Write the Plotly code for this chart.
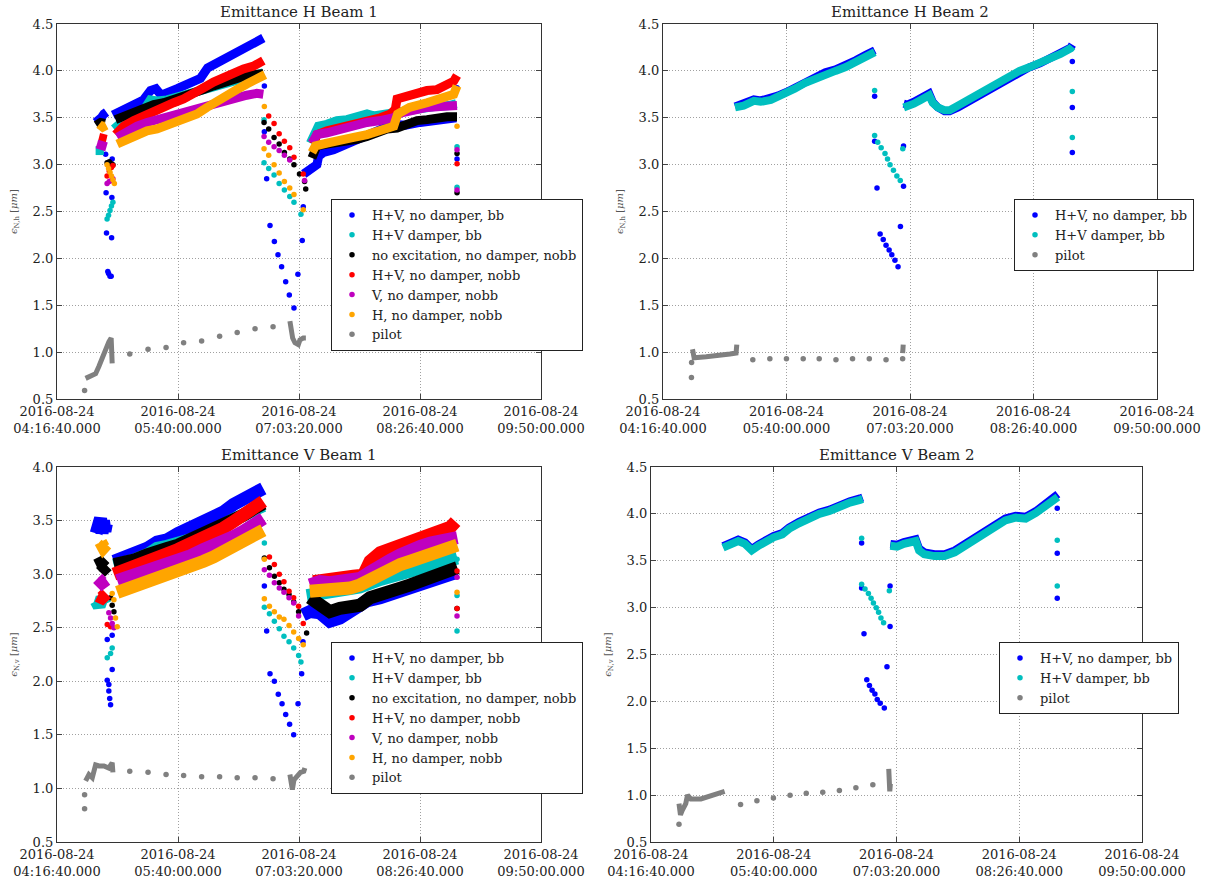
import pandas as pd
import plotly.graph_objects as go

# ---------------- axis / label data ----------------
T_START = pd.Timestamp("2016-08-24 04:16:40")
T_END = pd.Timestamp("2016-08-24 09:50:00")
X_TICK_TIMES = ["2016-08-24 04:16:40", "2016-08-24 05:40:00", "2016-08-24 07:03:20",
                "2016-08-24 08:26:40", "2016-08-24 09:50:00"]
X_TICK_TEXT = ["2016-08-24<br>04:16:40.000", "2016-08-24<br>05:40:00.000", "2016-08-24<br>07:03:20.000",
               "2016-08-24<br>08:26:40.000", "2016-08-24<br>09:50:00.000"]
Y_TICKS_45 = [0.5, 1.0, 1.5, 2.0, 2.5, 3.0, 3.5, 4.0, 4.5]
Y_TICKS_40 = [0.5, 1.0, 1.5, 2.0, 2.5, 3.0, 3.5, 4.0]
TITLES = ["Emittance H Beam 1", "Emittance H Beam 2", "Emittance V Beam 1", "Emittance V Beam 2"]
NAMES = ["H+V, no damper, bb", "H+V damper, bb", "no excitation, no damper, nobb",
         "H+V, no damper, nobb", "V, no damper, nobb", "H, no damper, nobb", "pilot"]
COLORS = ["#0000ff", "#00bfbf", "#000000", "#ff0000", "#bf00bf", "#ffa500", "#808080"]

# Times are minutes after 04:16:40; None separates dense segments.
# ================= Emittance H Beam 1 =================
H1_b0_t = [26.6, 28.9, 30.5, 32.3, 34.1, None, 38.5, 44.7, 52.1, 59.5, 64.4, 68.1, 71.8, 75.5, 82.8, 91.4, 98.8, 103.7, 111.1, 118.5, 125.9, 133.2, 142.1,
           None, 169.9, 174.5, 179.0, 180.2, 183.6, 190.5, 197.4, 204.3, 211.2, 218.1, 225.0, 231.9, 240, 250, 262, 275]
H1_b0_v = [3.45, 3.47, 3.50, 3.54, 3.56, None, 3.53, 3.58, 3.64, 3.69, 3.79, 3.81, 3.74, 3.77, 3.81, 3.87, 3.92, 4.03, 4.09, 4.15, 4.22, 4.28, 4.35,
           None, 2.90, 2.95, 3.00, 3.09, 3.13, 3.16, 3.21, 3.25, 3.31, 3.34, 3.39, 3.43, 3.42, 3.45, 3.48, 3.50]
H1_d0_t = [33.5, 33.8, 34.1, 35.0, 35.5, 36.5, 37.3, 37.6, 37.8, 38.0, 142.8, 142.8, 144.4, 146.7, 149.7, 152.2, 154.7, 157.5, 160.0, 163.2, 165.9, 168.9, 169.6, 275.5, 275.5]
H1_d0_v = [3.11, 2.70, 2.27, 1.86, 1.84, 1.81, 1.81, 2.22, 2.65, 3.06, 3.35, 3.84, 2.85, 2.35, 2.18, 2.04, 1.91, 1.75, 1.61, 1.47, 1.83, 2.19, 2.55, 3.82, 3.06]

H1_b1_t = [26.6, 29.0, 32.3, None, 39.2, 46.0, 52.9, 59.8, 64.3, 68.9, 75.8, 82.6, 89.5, 96.4, 101, 107.8, 114.7, 121.5, 128.4, 135.3, 142.1,
           None, 174.5, 180, 185.9, 192.8, 199.7, 206.6, 213.5, 218, 230, 240, 250, 260, 270, 275]
H1_b1_v = [3.15, 3.14, 3.15, None, 3.38, 3.47, 3.52, 3.58, 3.69, 3.68, 3.69, 3.72, 3.75, 3.78, 3.81, 3.84, 3.88, 3.91, 3.94, 3.96, 3.98,
           None, 3.23, 3.41, 3.43, 3.47, 3.48, 3.51, 3.54, 3.52, 3.55, 3.58, 3.60, 3.62, 3.63, 3.65]
H1_d1_t = [34.5, 35.5, 36.5, 37.5, 38.5, 142.6, 142.6, 145.8, 149.5, 153, 156.6, 160.3, 163.2, 168, 275.5, 275.5]
H1_d1_v = [2.42, 2.46, 2.51, 2.56, 2.60, 3.48, 3.02, 2.96, 2.89, 2.80, 2.73, 2.66, 2.60, 2.47, 3.19, 2.76]

H1_b2_t = [27, 30, 33, None, 40.3, 46.0, 52.9, 59.8, 66.6, 73.5, 80.4, 87.2, 94.1, 101, 107.8, 114.7, 121.5, 128.4, 135.3, 142.1,
           None, 175.6, 176.8, 179, 185.9, 192.8, 199.7, 206.6, 213.5, 220.4, 227.3, 234.2, 241, 248, 254.8, 261.7, 268.6, 275.5]
H1_b2_v = [3.42, 3.45, 3.44, None, 3.48, 3.52, 3.56, 3.60, 3.64, 3.66, 3.69, 3.72, 3.76, 3.80, 3.84, 3.88, 3.91, 3.94, 3.96, 3.97,
           None, 3.07, 3.14, 3.20, 3.22, 3.23, 3.25, 3.27, 3.30, 3.34, 3.38, 3.39, 3.43, 3.47, 3.48, 3.50, 3.51, 3.51]
H1_d2_t = [34.5, 36, 37.5, 38.5, 142.6, 145.8, 149.5, 153, 156.6, 160.3, 163.2, 167, 170.5, 171.3, 275.5, 275.5]
H1_d2_v = [3.02, 3.03, 3.01, 3.00, 3.45, 3.38, 3.29, 3.22, 3.13, 3.06, 3.00, 2.90, 2.82, 2.74, 3.12, 2.70]

H1_b3_t = [28.9, 31.5, 34.1, None, 40.3, 46.0, 52.9, 59.8, 66.6, 73.5, 80.4, 87.2, 94.1, 101, 107.8, 114.7, 121.5, 128.4, 135.3, 142.1,
           None, 176.8, 179, 185.9, 195.1, 204.3, 213.5, 222.7, 229.6, 233, 234.2, 241, 248, 254.8, 261.7, 268.6, 273.2, 275.5]
H1_b3_v = [3.29, 3.28, 3.27, None, 3.32, 3.41, 3.47, 3.52, 3.57, 3.63, 3.66, 3.70, 3.75, 3.82, 3.88, 3.93, 3.98, 4.02, 4.05, 4.11,
           None, 3.22, 3.32, 3.36, 3.39, 3.43, 3.47, 3.50, 3.54, 3.59, 3.70, 3.73, 3.77, 3.79, 3.80, 3.84, 3.89, 3.95]
H1_d3_t = [34.5, 36, 37.5, 38.5, 145.8, 149.5, 153, 156.6, 160.3, 163.2, 169.6, 275.5]
H1_d3_v = [2.88, 2.93, 2.97, 2.99, 3.52, 3.44, 3.33, 3.25, 3.18, 3.08, 2.90, 3.01]

H1_b4_t = [27.5, 31, 34.1, None, 41.5, 48.3, 55.2, 62.0, 68.9, 75.8, 82.6, 89.5, 96.4, 103.2, 110.1, 117, 123.8, 130.7, 137.6, 142.1,
           None, 175.6, 179, 185.9, 195.1, 204.3, 213.5, 222.7, 231.9, 236.5, 245.7, 254.8, 264, 275.5]
H1_b4_v = [3.22, 3.20, 3.19, None, 3.29, 3.36, 3.41, 3.45, 3.48, 3.52, 3.54, 3.56, 3.59, 3.63, 3.65, 3.68, 3.71, 3.74, 3.76, 3.75,
           None, 3.23, 3.32, 3.34, 3.38, 3.41, 3.45, 3.47, 3.50, 3.55, 3.59, 3.61, 3.62, 3.63]
H1_d4_t = [34.5, 36, 37.5, 38.5, 142.6, 145.8, 149.5, 153, 156.6, 160.3, 170.5, 275.5, 275.5]
H1_d4_v = [2.80, 2.82, 2.83, 2.85, 3.30, 3.24, 3.19, 3.15, 3.10, 3.05, 2.83, 3.16, 2.73]

H1_b5_t = [29, 31.5, 34, None, 41.5, 48.3, 55.2, 62.0, 68.9, 75.8, 82.6, 89.5, 96.4, 103.2, 110.1, 117, 123.8, 130.7, 137.6, 143.3,
           None, 175.6, 178, 185.9, 195.1, 204.3, 213.5, 222.7, 231.9, 234.6, 242.7, 254.8, 264, 273.2, 275.5]
H1_b5_v = [3.43, 3.40, 3.42, None, 3.22, 3.27, 3.31, 3.36, 3.38, 3.42, 3.45, 3.49, 3.54, 3.61, 3.68, 3.75, 3.80, 3.86, 3.91, 3.96,
           None, 3.13, 3.20, 3.23, 3.25, 3.29, 3.32, 3.36, 3.41, 3.54, 3.61, 3.66, 3.70, 3.75, 3.84]
H1_d5_t = [34.5, 35.5, 36.5, 37.5, 38.5, 39.5, 142.8, 142.6, 145.8, 149.5, 153, 156.6, 160.3, 163.2, 169.6, 275.5]
H1_d5_v = [3.00, 2.96, 2.92, 2.88, 2.84, 2.80, 3.62, 3.17, 3.10, 3.00, 2.91, 2.82, 2.75, 2.68, 2.52, 3.41]

H1_b6_t = [19.7, 23.1, 26.6, 28.9, 31.1, 33.4, 35.7, 37.3, 37.6, 38.0, None, 160.4, 161.1, 162.3, 163.9, 166.2, 167.3, 169.6, 171.4]
H1_b6_v = [0.72, 0.74, 0.77, 0.85, 0.94, 1.02, 1.11, 1.15, 0.99, 0.88, None, 1.33, 1.24, 1.15, 1.10, 1.08, 1.13, 1.15, 1.15]
H1_d6_t = [19.0, 50.1, 62.7, 75.1, 87.2, 99.6, 112, 124.1, 136.4, 148.8]
H1_d6_v = [0.59, 0.98, 1.03, 1.05, 1.10, 1.12, 1.17, 1.21, 1.25, 1.27]

# ================= Emittance H Beam 2 =================
H2_b0_t = [48.6, 54.4, 61.3, 65.9, 72.8, 77.4, 83.3, 88.9, 95.7, 102.6, 109.5, 116.4, 123.3, 130.2, 137.1, 142.9,
           None, 162.4, 164.7, 169.3, 173.9, 179.6, 182, 185.4, 190, 193.4, 199.2, 206.1, 213, 219.9, 226.8, 233.7, 240.6, 247.5, 254.4, 261.3, 268.2, 275.1, 276.2]
H2_b0_v = [3.62, 3.645, 3.695, 3.685, 3.705, 3.735, 3.775, 3.825, 3.885, 3.935, 3.985, 4.015, 4.055, 4.115, 4.175, 4.22,
           None, 3.65, 3.64, 3.67, 3.71, 3.76, 3.67, 3.61, 3.57, 3.57, 3.61, 3.67, 3.74, 3.81, 3.87, 3.93, 3.99, 4.04, 4.08, 4.13, 4.19, 4.25, 4.28]
H2_d0_t = [142.8, 142.8, 144.4, 146.5, 148.6, 150.5, 152.6, 154.4, 156.5, 158.6, 160.2, 162.3, 162.3, 276.2, 276.2, 276.2]
H2_d0_v = [3.73, 3.25, 2.75, 2.26, 2.20, 2.14, 2.09, 2.04, 1.98, 1.91, 2.34, 2.77, 3.20, 4.10, 3.61, 3.13]

H2_b1_t = [48.6, 54.4, 61.3, 65.9, 72.8, 77.4, 83.3, 88.9, 95.7, 102.6, 109.5, 116.4, 123.3, 130.2, 137.1, 142.9,
           None, 162.4, 164.7, 169.3, 173.9, 179.6, 182, 185.4, 190, 193.4, 199.2, 206.1, 213, 219.9, 226.8, 233.7, 240.6, 247.5, 254.4, 261.3, 268.2, 275.1, 276.2]
H2_b1_v = [3.61, 3.63, 3.68, 3.67, 3.69, 3.72, 3.76, 3.81, 3.87, 3.92, 3.97, 4.00, 4.04, 4.10, 4.16, 4.20,
           None, 3.61, 3.62, 3.65, 3.69, 3.74, 3.66, 3.61, 3.58, 3.58, 3.63, 3.69, 3.76, 3.83, 3.88, 3.94, 4.00, 4.04, 4.08, 4.12, 4.18, 4.24, 4.26]
H2_d1_t = [142.8, 142.8, 144.9, 147.2, 149.8, 151.5, 153.2, 155.5, 157.8, 160.1, 161.8, 276.2, 276.2]
H2_d1_v = [3.79, 3.31, 3.24, 3.18, 3.12, 3.06, 3.00, 2.94, 2.88, 2.83, 3.17, 3.78, 3.29]

H2_b6_t = [19.9, 21.0, 29.1, 38.3, 45.2, 49.3, 49.8, None, 161.7, 161.9, 162.1]
H2_b6_v = [1.03, 0.94, 0.95, 0.96, 0.98, 0.99, 1.08, None, 0.99, 1.04, 1.08]
H2_d6_t = [19.2, 19.3, 60.6, 72.1, 83.3, 94.6, 105.4, 116.7, 127.9, 139.2, 150.5, 161.7]
H2_d6_v = [0.73, 0.89, 0.92, 0.93, 0.93, 0.93, 0.93, 0.92, 0.93, 0.93, 0.92, 0.93]

# ================= Emittance V Beam 1 =================
V1_b0_t = [27, 28, 29, 30, 31, 32, 33, 34, None, 39.2, 46, 52.9, 62, 68.9, 75.8, 83.3, 91.8, 101, 107.8, 114.7, 121.5, 128.4, 135.3, 142.1,
           None, 169.4, 174.1, 181, 187.9, 194.8, 201.8, 208.7, 213.3, 222.6, 236.4, 250.3, 264.1, 275.7]
V1_b0_v = [3.38, 3.50, 3.40, 3.52, 3.38, 3.50, 3.40, 3.47, None, 3.12, 3.15, 3.18, 3.24, 3.30, 3.32, 3.38, 3.43, 3.49, 3.52, 3.58, 3.65, 3.71, 3.77, 3.80,
           None, 2.62, 2.65, 2.64, 2.56, 2.59, 2.65, 2.68, 2.75, 2.78, 2.84, 2.90, 2.95, 3.02]
V1_d0_t = [34.6, 38.0, 38.0, 34.6, 35.7, 35.7, 36.3, 36.9, 142.8, 144.4, 146.7, 149.7, 152.4, 155, 157.5, 160.2, 163, 166, 168.5, 169.4]
V1_d0_v = [2.39, 2.43, 2.11, 2.01, 1.97, 1.91, 1.84, 1.78, 2.89, 2.47, 2.07, 2.00, 1.88, 1.79, 1.69, 1.60, 1.50, 1.79, 2.07, 2.37]

V1_b1_t = [27, 29, 31, 33, None, 39.2, 46, 52.9, 62, 68.9, 75.8, 83.3, 91.8, 101, 107.8, 114.7, 121.5, 128.4, 135.3, 142.1,
           None, 172, 181, 194.8, 208.7, 222.6, 236.4, 250.3, 264.1, 275.7]
V1_b1_v = [2.75, 2.70, 2.78, 2.72, None, 3.08, 3.10, 3.13, 3.18, 3.24, 3.26, 3.28, 3.32, 3.37, 3.40, 3.46, 3.51, 3.55, 3.60, 3.64,
           None, 2.80, 2.82, 2.84, 2.88, 2.95, 3.00, 3.05, 3.10, 3.15]
V1_d1_t = [34.6, 36.9, 38.0, 142.8, 142.8, 146.3, 149.7, 153.1, 156.3, 159.8, 163, 166.4, 168, 275.5, 275.5, 275.5]
V1_d1_v = [2.22, 2.26, 2.31, 3.29, 2.69, 2.63, 2.56, 2.49, 2.42, 2.37, 2.31, 2.24, 2.18, 3.14, 2.80, 2.47]

V1_b2_t = [27, 30, 33, 34.5, None, 39.2, 46, 52.9, 62, 68.9, 75.8, 83.3, 91.8, 101, 107.8, 114.7, 121.5, 128.4, 135.3, 142.1,
           None, 174.1, 181, 187.9, 194.8, 201.8, 208.7, 215.6, 222.6, 229.5, 236.4, 243.3, 250.3, 257.2, 264.1, 271.1, 275.7]
V1_b2_v = [3.08, 3.10, 3.06, 3.08, None, 3.09, 3.10, 3.13, 3.18, 3.22, 3.24, 3.27, 3.32, 3.37, 3.40, 3.46, 3.51, 3.55, 3.61, 3.66,
           None, 2.78, 2.71, 2.65, 2.68, 2.71, 2.71, 2.78, 2.82, 2.85, 2.87, 2.90, 2.93, 2.95, 2.98, 3.02, 3.06]
V1_d2_t = [36.9, 38.0, 39.2, 142.8, 146.3, 149.7, 153.1, 156.3, 159.8, 163, 166.4, 171.9, 275.5]
V1_d2_v = [2.78, 2.71, 2.65, 3.15, 3.06, 2.98, 2.92, 2.86, 2.81, 2.74, 2.65, 2.45, 2.68]

V1_b3_t = [28, 31, 34, None, 39.2, 46, 52.9, 62, 68.9, 75.8, 83.3, 91.8, 101, 107.8, 114.7, 121.5, 128.4, 135.3, 142.1,
           None, 176.4, 183.3, 190.2, 197.2, 204.1, 211, 215.6, 222.6, 229.5, 236.4, 243.3, 250.3, 257.2, 264.1, 271.1, 274.5]
V1_b3_v = [2.80, 2.78, 2.82, None, 3.00, 3.03, 3.06, 3.11, 3.16, 3.19, 3.23, 3.28, 3.34, 3.38, 3.43, 3.49, 3.55, 3.61, 3.68,
           None, 2.93, 2.95, 2.96, 2.96, 2.98, 2.99, 3.12, 3.20, 3.23, 3.26, 3.30, 3.35, 3.38, 3.40, 3.44, 3.49]
V1_d3_t = [34.6, 36.9, 146.3, 149.7, 153.1, 156.3, 159.8, 163, 166.4, 169.6, 275.5, 275.5]
V1_d3_v = [2.53, 2.51, 3.16, 3.09, 3.00, 2.93, 2.84, 2.78, 2.70, 2.54, 3.03, 2.68]

V1_b4_t = [28, 31, 34, None, 41.5, 48.3, 55.2, 62, 68.9, 75.8, 83.3, 91.8, 101, 107.8, 114.7, 121.5, 128.4, 135.3, 142.1,
           None, 174.1, 181, 187.9, 194.8, 201.8, 208.7, 215.6, 222.6, 229.5, 236.4, 243.3, 250.3, 257.2, 264.1, 271.1, 275.7]
V1_b4_v = [2.96, 2.92, 2.95, None, 2.94, 2.97, 3.00, 3.03, 3.06, 3.09, 3.12, 3.17, 3.23, 3.26, 3.30, 3.35, 3.40, 3.46, 3.52,
           None, 2.90, 2.93, 2.92, 2.93, 2.95, 2.96, 3.02, 3.09, 3.13, 3.18, 3.23, 3.26, 3.29, 3.32, 3.35, 3.34]
V1_d4_t = [35.7, 36.9, 38.0, 39.2, 142.8, 146.3, 149.7, 153.1, 156.3, 159.8, 163, 166.4, 275.5, 275.5]
V1_d4_v = [2.64, 2.59, 2.54, 2.50, 3.04, 2.99, 2.92, 2.87, 2.83, 2.78, 2.73, 2.61, 2.97, 2.61]

V1_b5_t = [30, 32, 34, None, 41.5, 48.3, 55.2, 62, 68.9, 75.8, 83.3, 91.8, 101, 107.8, 114.7, 121.5, 128.4, 135.3, 142.1,
           None, 174.1, 181, 187.9, 194.8, 201.8, 208.7, 215.6, 222.6, 229.5, 236.4, 243.3, 250.3, 257.2, 264.1, 271.1, 275.7]
V1_b5_v = [3.30, 3.25, 3.28, None, 2.83, 2.86, 2.89, 2.92, 2.96, 2.99, 3.02, 3.07, 3.12, 3.16, 3.21, 3.26, 3.30, 3.35, 3.41,
           None, 2.84, 2.85, 2.85, 2.84, 2.87, 2.90, 2.95, 3.02, 3.06, 3.09, 3.12, 3.15, 3.20, 3.23, 3.26, 3.27]
V1_d5_t = [38.0, 39.2, 40.3, 41.5, 142.8, 142.8, 146.3, 149.7, 153.1, 156.3, 159.8, 163, 166.4, 169.6, 275.5]
V1_d5_v = [2.82, 2.76, 2.59, 2.51, 3.14, 2.77, 2.70, 2.65, 2.60, 2.58, 2.52, 2.46, 2.40, 2.34, 2.83]

V1_b6_t = [19.7, 22.0, 24.3, 26.6, 28.9, 32.3, 35.7, 38.0, 38.5, None, 160.4, 161.4, 162.1, 163.2, 165.4, 167.7, 170, 170.7]
V1_b6_v = [1.07, 1.13, 1.10, 1.22, 1.21, 1.21, 1.19, 1.24, 1.15, None, 1.13, 1.05, 0.99, 1.08, 1.11, 1.15, 1.16, 1.19]
V1_d6_t = [19.0, 19.0, 50.1, 62.7, 75.1, 87.2, 99.6, 112, 124.1, 136.4, 148.8]
V1_d6_v = [0.81, 0.94, 1.16, 1.15, 1.13, 1.12, 1.11, 1.11, 1.10, 1.10, 1.09]

# ================= Emittance V Beam 2 =================
V2_b0_t = [48.9, 54.6, 59.2, 63.8, 68.4, 73.0, 77.6, 83.3, 89.1, 93.7, 100.5, 107.4, 114.3, 121.2, 128.1, 135.0, 141.9, 143.7,
           None, 162.5, 167.1, 171.7, 176.3, 179.7, 182, 185.5, 192.4, 199.3, 206.2, 213.1, 220, 226.8, 233.7, 240.6, 247.5, 254.4, 261.3, 268.2, 273.9, 276.2]
V2_b0_v = [3.655, 3.685, 3.725, 3.695, 3.625, 3.675, 3.725, 3.765, 3.795, 3.855, 3.915, 3.975, 4.015, 4.045, 4.095, 4.135, 4.165, 4.175,
           None, 3.68, 3.67, 3.70, 3.73, 3.73, 3.63, 3.59, 3.57, 3.57, 3.61, 3.68, 3.75, 3.82, 3.89, 3.95, 3.98, 3.97, 4.03, 4.11, 4.16, 4.21]
V2_d0_t = [143, 143, 144.6, 146.5, 148.3, 150.1, 152, 153.6, 155.6, 158.4, 160.2, 162.3, 162.3, 275.8, 275.8, 275.8]
V2_d0_v = [3.69, 3.21, 2.72, 2.23, 2.17, 2.12, 2.08, 2.02, 1.98, 1.93, 2.37, 2.80, 3.23, 4.06, 3.58, 3.10]

V2_b1_t = [48.9, 54.6, 59.2, 63.8, 68.4, 73.0, 77.6, 83.3, 89.1, 93.7, 100.5, 107.4, 114.3, 121.2, 128.1, 135.0, 141.9, 143.7,
           None, 162.5, 167.1, 171.7, 176.3, 179.7, 182, 185.5, 192.4, 199.3, 206.2, 213.1, 220, 226.8, 233.7, 240.6, 247.5, 254.4, 261.3, 268.2, 273.9, 276.2]
V2_b1_v = [3.64, 3.67, 3.71, 3.68, 3.61, 3.66, 3.71, 3.75, 3.78, 3.84, 3.90, 3.96, 4.00, 4.03, 4.08, 4.12, 4.15, 4.16,
           None, 3.66, 3.65, 3.68, 3.71, 3.71, 3.61, 3.57, 3.55, 3.55, 3.59, 3.66, 3.73, 3.80, 3.87, 3.93, 3.96, 3.95, 4.01, 4.09, 4.14, 4.18]
V2_d1_t = [143, 143, 145.3, 147.6, 149.4, 151, 152.9, 154.5, 156.1, 157.9, 161.8, 275.8, 275.8]
V2_d1_v = [3.74, 3.25, 3.20, 3.15, 3.10, 3.05, 3.00, 2.95, 2.89, 2.84, 3.18, 3.72, 3.23]

V2_b6_t = [19.0, 19.5, 20.0, 21.3, 23.6, 24.8, 27.0, 33.9, 40.9, 47.7, 50.0, None, 161.4, 161.8, 162.1, 162.5]
V2_b6_v = [0.91, 0.85, 0.79, 0.84, 0.91, 1.00, 0.96, 0.96, 0.99, 1.02, 1.04, None, 1.28, 1.15, 1.04, 1.12]
V2_d6_t = [19.0, 60.8, 71.9, 83.1, 94.4, 105.4, 116.6, 127.9, 139.1, 150.6]
V2_d6_v = [0.69, 0.90, 0.94, 0.97, 1.00, 1.02, 1.03, 1.05, 1.08, 1.11]

# ---------------- build figure ----------------
FONT = "DejaVu Serif"
W, H = 1209, 879


def to_time(mins):
    out = []
    for m in mins:
        if m is None:
            out.append(None)
        else:
            out.append((T_START + pd.Timedelta(minutes=m)).strftime("%Y-%m-%d %H:%M:%S.%f"))
    return out


PANELS = [
    dict(key="", legend="legend", ylab="<i>ϵ</i><sub>N,h</sub> [<i>μm</i>]", yr=[0.5, 4.5], yt=Y_TICKS_45,
         px=(57, 541), py=(24, 399), band=9, leg=(331, 199),
         series=[(0, H1_b0_t, H1_b0_v, H1_d0_t, H1_d0_v), (1, H1_b1_t, H1_b1_v, H1_d1_t, H1_d1_v),
                 (2, H1_b2_t, H1_b2_v, H1_d2_t, H1_d2_v), (3, H1_b3_t, H1_b3_v, H1_d3_t, H1_d3_v),
                 (4, H1_b4_t, H1_b4_v, H1_d4_t, H1_d4_v), (5, H1_b5_t, H1_b5_v, H1_d5_t, H1_d5_v),
                 (6, H1_b6_t, H1_b6_v, H1_d6_t, H1_d6_v)]),
    dict(key="2", legend="legend2", ylab="<i>ϵ</i><sub>N,h</sub> [<i>μm</i>]", yr=[0.5, 4.5], yt=Y_TICKS_45,
         px=(663, 1157), py=(24, 399), band=8, leg=(1014, 199),
         series=[(0, H2_b0_t, H2_b0_v, H2_d0_t, H2_d0_v), (1, H2_b1_t, H2_b1_v, H2_d1_t, H2_d1_v),
                 (6, H2_b6_t, H2_b6_v, H2_d6_t, H2_d6_v)]),
    dict(key="3", legend="legend3", ylab="<i>ϵ</i><sub>N,v</sub> [<i>μm</i>]", yr=[0.5, 4.0], yt=Y_TICKS_40,
         px=(57, 541), py=(467, 842), band=13, leg=(331, 642),
         series=[(0, V1_b0_t, V1_b0_v, V1_d0_t, V1_d0_v), (1, V1_b1_t, V1_b1_v, V1_d1_t, V1_d1_v),
                 (2, V1_b2_t, V1_b2_v, V1_d2_t, V1_d2_v), (3, V1_b3_t, V1_b3_v, V1_d3_t, V1_d3_v),
                 (4, V1_b4_t, V1_b4_v, V1_d4_t, V1_d4_v), (5, V1_b5_t, V1_b5_v, V1_d5_t, V1_d5_v),
                 (6, V1_b6_t, V1_b6_v, V1_d6_t, V1_d6_v)]),
    dict(key="4", legend="legend4", ylab="<i>ϵ</i><sub>N,v</sub> [<i>μm</i>]", yr=[0.5, 4.5], yt=Y_TICKS_45,
         px=(651, 1142), py=(467, 842), band=8, leg=(999, 642),
         series=[(0, V2_b0_t, V2_b0_v, V2_d0_t, V2_d0_v), (1, V2_b1_t, V2_b1_v, V2_d1_t, V2_d1_v),
                 (6, V2_b6_t, V2_b6_v, V2_d6_t, V2_d6_v)]),
]

fig = go.Figure()
layout = dict(width=W, height=H, margin=dict(l=0, r=0, t=0, b=0, autoexpand=False), paper_bgcolor="white",
              plot_bgcolor="white", font=dict(family=FONT, size=13, color="#222"), annotations=[])

for pi, p in enumerate(PANELS):
    xa = "x" + p["key"]
    ya = "y" + p["key"]
    for idx, bt, bv, dt, dv in p["series"]:
        width = p["band"] if idx != 6 else 5
        fig.add_trace(go.Scatter(x=to_time(bt), y=bv, mode="lines", xaxis=xa, yaxis=ya,
                                 line=dict(color=COLORS[idx], width=width), showlegend=False,
                                 hoverinfo="skip"))
        fig.add_trace(go.Scatter(x=to_time(dt), y=dv, mode="markers", xaxis=xa, yaxis=ya,
                                 marker=dict(color=COLORS[idx], size=5.5, line=dict(width=0)),
                                 name=NAMES[idx], legend=p["legend"]))
    x0, x1 = p["px"]
    y0, y1 = p["py"]
    dom_x = [x0 / W, x1 / W]
    dom_y = [1 - y1 / H, 1 - y0 / H]
    layout["xaxis" + p["key"]] = dict(
        domain=dom_x, anchor=ya, type="date", range=[T_START, T_END], automargin=False,
        tickvals=X_TICK_TIMES, ticktext=X_TICK_TEXT, ticks="inside", ticklen=5,
        showline=True, linecolor="#333", linewidth=1.2, mirror="ticks",
        showgrid=True, gridcolor="#a0a0a0", griddash="1px,2px", gridwidth=1,
        zeroline=False, tickfont=dict(size=13, family=FONT, color="#222"))
    layout["yaxis" + p["key"]] = dict(
        domain=dom_y, anchor=xa, range=p["yr"], tickvals=p["yt"], tickformat=".1f", automargin=False,
        ticks="inside", ticklen=5, showline=True, linecolor="#333", linewidth=1.2, mirror="ticks",
        showgrid=True, gridcolor="#a0a0a0", griddash="1px,2px", gridwidth=1, zeroline=False,
        tickfont=dict(size=13, family=FONT, color="#222"),
        title=dict(text=p["ylab"], font=dict(size=10, family=FONT, color="#555"), standoff=13))
    lx, ly = p["leg"]
    layout[p["legend"]] = dict(x=lx / W, y=1 - ly / H, xanchor="left", yanchor="top",
                               bgcolor="white", bordercolor="#222", borderwidth=1,
                               font=dict(size=13, family=FONT, color="#222"), tracegroupgap=0,
                               itemsizing="trace")
    layout["annotations"].append(dict(
        text=TITLES[pi], x=(dom_x[0] + dom_x[1]) / 2, y=1 - (y0 - 12) / H,
        xref="paper", yref="paper", xanchor="center", yanchor="middle", showarrow=False,
        font=dict(size=15, family=FONT, color="#222")))

fig.update_layout(**layout)
fig.write_html("out.html")
